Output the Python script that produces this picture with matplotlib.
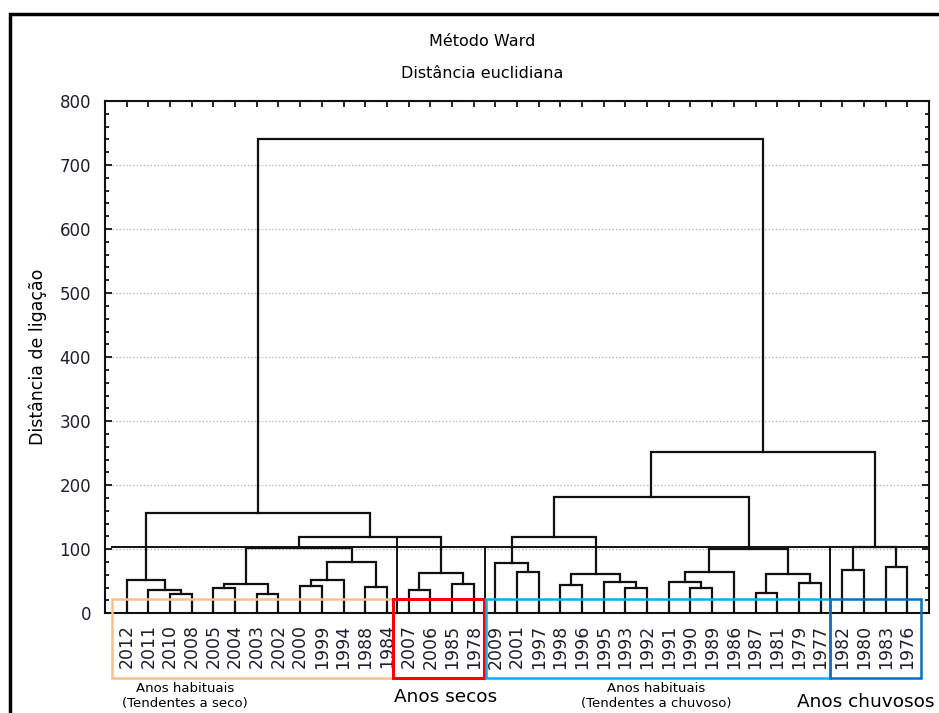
import matplotlib
matplotlib.use("Agg")
import matplotlib.pyplot as plt
from matplotlib.patches import Rectangle
from matplotlib.ticker import MultipleLocator

# Folhas do dendrograma (ordem no eixo x)
anos = ['2012', '2011', '2010', '2008', '2005', '2004', '2003', '2002', '2000',
        '1999', '1994', '1988', '1984', '2007', '2006', '1985', '1978', '2009',
        '2001', '1997', '1998', '1996', '1995', '1993', '1992', '1991', '1990',
        '1989', '1986', '1987', '1981', '1979', '1977', '1982', '1980', '1983',
        '1976']

# Fusões (tipo matriz de ligação): índices dos grupos e distância de ligação
# ids >= 37 são os grupos criados pelas fusões anteriores
fusao_a = [2, 1, 0, 4, 6, 40, 8, 43, 11, 44, 42, 13, 15, 48, 47, 39,
           18, 17, 20, 23, 22, 55, 54, 26, 25, 61, 29, 31, 63, 62, 59,
           33, 35, 68, 67, 52]
fusao_b = [3, 37, 38, 5, 7, 41, 9, 10, 12, 45, 46, 14, 16, 49, 50, 51,
           19, 53, 21, 24, 56, 57, 58, 27, 60, 28, 30, 32, 64, 65, 66,
           34, 36, 69, 70, 71]
fusao_h = [30.7, 37, 52.6, 40, 30.7, 46.4, 43.2, 52.6, 41.1, 80.7, 102, 36.4,
           45.8, 62.5, 118.7, 156, 65, 78, 43.7, 40, 49.4, 61.4, 118.7, 40,
           49.4, 65, 31.2, 46.9, 61.4, 100, 181, 67.7, 71.8, 103, 252.5, 740]

corte = 103  # linha de corte

# Grupos destacados (caixas em volta dos anos)
grupos_x0 = [0.31, 13.30, 17.56, 33.44]
grupos_x1 = [13.30, 17.48, 33.44, 37.62]
grupos_cor = ['#F9BF8F', '#FF0000', '#00B0F0', '#0070C0']

W, H = 939, 713
plt.rcParams['font.family'] = 'DejaVu Sans'
fig = plt.figure(figsize=(W / 100, H / 100), dpi=100)
ax = fig.add_axes([105 / W, 1 - 613.3 / H, 824 / W, 512.3 / H])

n = len(anos)
pos = {i: i + 1 for i in range(n)}
alt = {i: 0.0 for i in range(n)}
for k, (a, b, h) in enumerate(zip(fusao_a, fusao_b, fusao_h)):
    xa, xb = pos[a], pos[b]
    ax.plot([xa, xa, xb, xb], [alt[a], h, h, alt[b]], color='#111111', lw=1.6,
            solid_joinstyle='miter', zorder=3)
    pos[n + k] = (xa + xb) / 2
    alt[n + k] = h

# linha de corte e separadores
ax.plot([0.31, 38], [corte, corte], color='#111111', lw=1.4, zorder=3)
ax.plot([13.45, 13.45], [0, 118.7], color='#111111', lw=1.4, zorder=3)
ax.plot([17.52, 17.52], [0, corte], color='#111111', lw=1.4, zorder=3)
ax.plot([33.44, 33.44], [0, corte], color='#111111', lw=1.4, zorder=3)

for x0, x1, c in zip(grupos_x0, grupos_x1, grupos_cor):
    lw = 2.2 if c == '#FF0000' else 1.8
    ax.add_patch(Rectangle((x0, -101), x1 - x0, 123, fill=False, edgecolor=c,
                           lw=lw, clip_on=False, zorder=4))

ax.set_xlim(0, 38)
ax.set_ylim(0, 800)
ax.set_xticks(range(1, n + 1))
ax.set_xticklabels(anos, rotation=90, fontsize=12.5, color='#1e1e2e')
ax.yaxis.set_major_locator(MultipleLocator(100))
ax.yaxis.set_minor_locator(MultipleLocator(20))
ax.tick_params(axis='x', direction='in', length=4, width=1.2, top=True,
               bottom=False, pad=8)
ax.tick_params(axis='y', which='both', direction='in', right=True, width=1.2)
ax.tick_params(axis='y', which='major', length=5, labelsize=12, pad=10,
               labelcolor='#1e1e2e')
ax.tick_params(axis='y', which='minor', length=3)
for s in ax.spines.values():
    s.set_linewidth(1.5)
    s.set_color('#111111')
ax.grid(axis='y', which='major', color='#b8b8b8', linestyle=(0, (1, 1.5)), lw=1)
ax.set_axisbelow(True)

ax.set_ylabel('Distância de ligação', fontsize=12.5, labelpad=9)

fig.text(482 / W, 1 - 42 / H, 'Método Ward', ha='center', va='center', fontsize=11.5)
fig.text(482 / W, 1 - 73 / H, 'Distância euclidiana', ha='center', va='center', fontsize=11.5)

fig.text(185 / W, 1 - 688 / H, 'Anos habituais', ha='center', va='center', fontsize=9.5)
fig.text(185 / W, 1 - 703 / H, '(Tendentes a seco)', ha='center', va='center', fontsize=9.5)
fig.text(446 / W, 1 - 697 / H, 'Anos secos', ha='center', va='center', fontsize=13.3)
fig.text(656 / W, 1 - 688 / H, 'Anos habituais', ha='center', va='center', fontsize=9.5)
fig.text(656 / W, 1 - 703 / H, '(Tendentes a chuvoso)', ha='center', va='center', fontsize=9.5)
fig.text(866 / W, 1 - 702 / H, 'Anos chuvosos', ha='center', va='center', fontsize=13.3)

# moldura externa
fig.add_artist(Rectangle((10 / W, -0.1), 2, 1.1 - 14 / H, fill=False,
                         edgecolor='black', lw=2.5, transform=fig.transFigure,
                         clip_on=False))

fig.savefig('out.png', dpi=100)
